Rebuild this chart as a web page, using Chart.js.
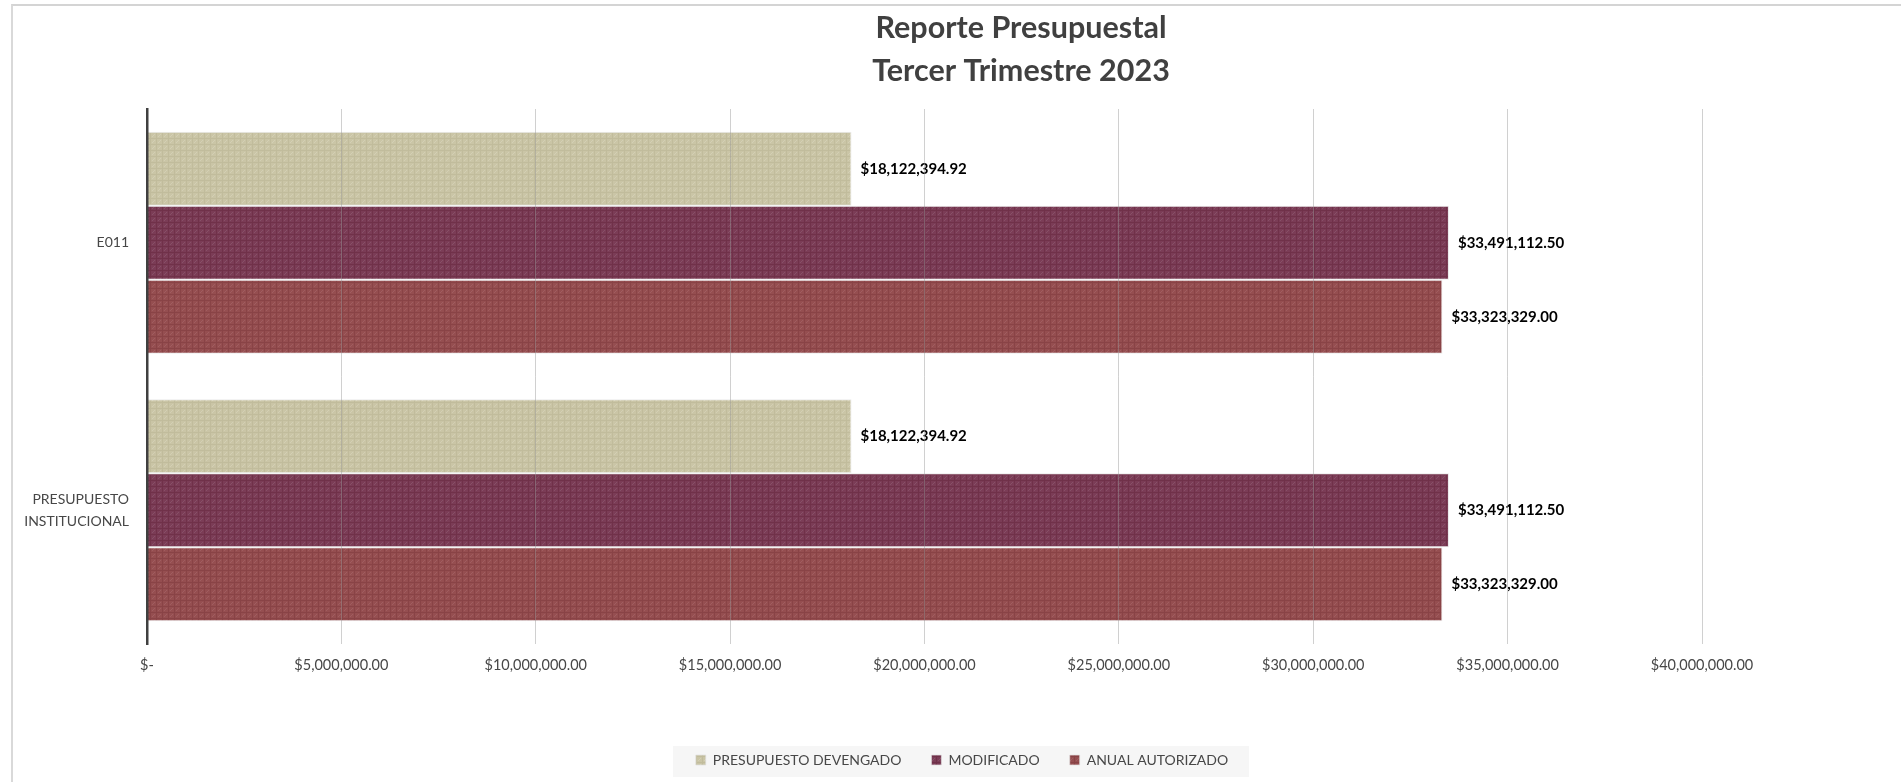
<!DOCTYPE html>
<html>
<head>
<meta charset="utf-8">
<script src="https://cdn.jsdelivr.net/npm/chart.js@4.4.1/dist/chart.umd.min.js"></script>
<style>
  html, body { margin: 0; padding: 0; background: #fff; overflow: hidden; }
  .frame { position: absolute; left: 11px; top: 4px; width: 2000px; height: 900px;
           border-top: 2px solid #d4d4d4; border-left: 2px solid #d9d9d9; }
  #chart { position: absolute; left: 0; top: 0; }
</style>
</head>
<body>
<div class="frame"></div>
<canvas id="chart" width="1901" height="782"></canvas>
<script>
// --- DATA ---
const categories = ['E011', ['PRESUPUESTO', 'INSTITUCIONAL']];
const seriesNames = ['PRESUPUESTO DEVENGADO', 'MODIFICADO', 'ANUAL AUTORIZADO'];
const devengado = [18122394.92, 18122394.92];
const modificado = [33491112.50, 33491112.50];
const anualAutorizado = [33323329.00, 33323329.00];
const xTickLabels = ['$-', '$5,000,000.00', '$10,000,000.00', '$15,000,000.00', '$20,000,000.00',
  '$25,000,000.00', '$30,000,000.00', '$35,000,000.00', '$40,000,000.00'];
const titleLines = ['Reporte Presupuestal', 'Tercer Trimestre 2023'];

const FONT = 'Lato, "Open Sans", sans-serif';
const TEXT = '#474747';
const money = v => '$' + v.toLocaleString('en-US', { minimumFractionDigits: 2, maximumFractionDigits: 2 });

// excel-ish woven texture fill
function texture(base, dark, light) {
  const c = document.createElement('canvas');
  c.width = 6; c.height = 6;
  const g = c.getContext('2d');
  g.fillStyle = base; g.fillRect(0, 0, 6, 6);
  g.fillStyle = dark; g.fillRect(0, 0, 6, 1); g.fillRect(0, 0, 1, 6);
  g.fillStyle = light; g.fillRect(3, 3, 1, 1); g.fillRect(2, 4, 1, 1); g.fillRect(4, 2, 1, 1);
  return g.createPattern(c, 'repeat');
}

const ctx = document.getElementById('chart').getContext('2d');
const fills = [
  texture('#cac5a6', '#c1bc9c', '#d3cfb4'),
  texture('#7b3c56', '#703149', '#875067'),
  texture('#954e50', '#894346', '#a05d60')
];

// --- PLUGINS ---
const titlePlugin = {
  id: 'titleText',
  afterDraw(chart) {
    const c = chart.ctx;
    c.save();
    c.font = 'bold 30.5px ' + FONT;
    c.fillStyle = '#404040';
    c.textAlign = 'center';
    c.textBaseline = 'middle';
    c.fillText(titleLines[0], 1021, 28);
    c.fillText(titleLines[1], 1021, 71);
    c.restore();
  }
};

const legendPlace = {
  id: 'legendPlace',
  afterLayout(chart) {
    const lg = chart.legend;
    const dx = 962 - (lg.left + lg.right) / 2;
    lg.left += dx; lg.right += dx;
    const h = lg.bottom - lg.top;
    lg.top = 750 - h / 2; lg.bottom = lg.top + h;
  },
  beforeDraw(chart) {
    const c = chart.ctx;
    c.save();
    c.fillStyle = '#f6f6f6';
    c.fillRect(673, 746, 576, 31);
    c.restore();
  }
};

const valueLabels = {
  id: 'valueLabels',
  afterDatasetsDraw(chart) {
    const c = chart.ctx;
    c.save();
    c.font = 'bold 15px ' + FONT;
    c.fillStyle = '#000';
    c.textAlign = 'left';
    c.textBaseline = 'middle';
    chart.data.datasets.forEach((ds, i) => {
      chart.getDatasetMeta(i).data.forEach((bar, j) => {
        c.fillText(money(ds.data[j]), bar.x + 9, bar.y);
      });
    });
    c.restore();
  }
};

new Chart(ctx, {
  type: 'bar',
  data: {
    labels: categories,
    datasets: [
      { label: seriesNames[0], data: devengado, backgroundColor: fills[0] },
      { label: seriesNames[1], data: modificado, backgroundColor: fills[1] },
      { label: seriesNames[2], data: anualAutorizado, backgroundColor: fills[2] }
    ]
  },
  options: {
    indexAxis: 'y',
    responsive: false,
    animation: false,
    categoryPercentage: 0.83,
    barPercentage: 1.0,
    datasets: { bar: { borderWidth: 1, borderColor: 'rgba(225,225,225,0.7)', borderSkipped: 'start' } },
    layout: { padding: { top: 109, left: 12, right: 199, bottom: 41 } },
    plugins: {
      title: { display: false },
      tooltip: { enabled: false },
      legend: {
        position: 'bottom',
        labels: { font: { family: FONT, size: 14 }, color: TEXT, boxWidth: 10, boxHeight: 10, padding: 30 }
      }
    },
    scales: {
      x: {
        min: 0, max: 40000000,
        afterFit: s => { s.height = 43; },
        ticks: {
          stepSize: 5000000, padding: 13, color: TEXT, maxRotation: 0,
          font: { family: FONT, size: 14.5 },
          callback: (v, i) => xTickLabels[i]
        },
        grid: { z: 1, color: 'rgba(150,150,150,0.45)', drawTicks: false },
        border: { display: false }
      },
      y: {
        afterFit: s => { s.width = 135; },
        ticks: { padding: 18, color: TEXT, font: { family: FONT, size: 14, lineHeight: 1.55 } },
        grid: { display: false, drawTicks: false },
        border: { display: true, color: '#404040', width: 2.5, z: 1 }
      }
    }
  },
  plugins: [titlePlugin, legendPlace, valueLabels]
});
</script>
</body>
</html>
